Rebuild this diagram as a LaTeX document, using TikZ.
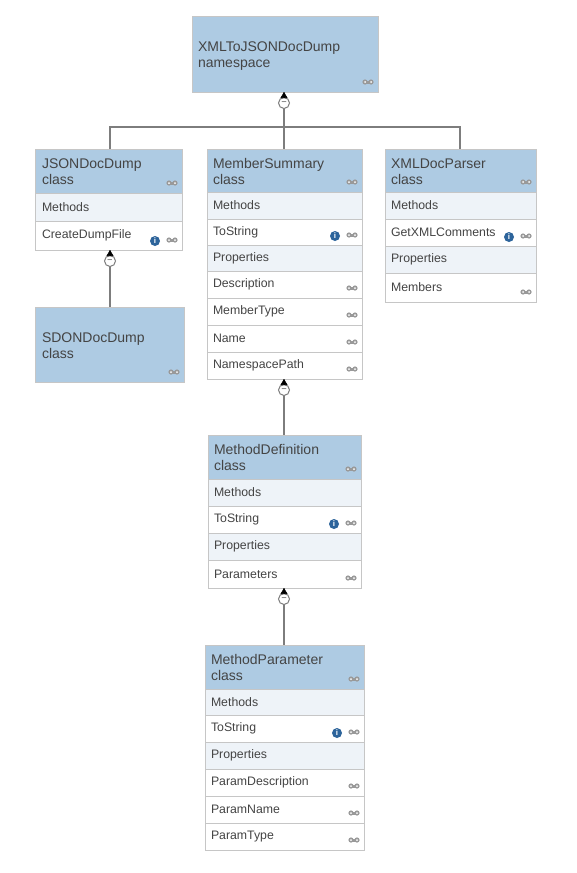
\documentclass[tikz,border=0pt]{standalone}
\usepackage{fontspec}
\setmainfont{Liberation Sans}
\usetikzlibrary{
    positioning,
    arrows.meta,
    calc
}
\definecolor{head_blue}{RGB}{174,203,227}
\definecolor{section_light}{RGB}{238,243,248}
\definecolor{box_line}{RGB}{198,198,198}
\definecolor{link_gray}{RGB}{125,125,125}
\definecolor{text_dark}{RGB}{68,68,68}
\definecolor{info_blue}{RGB}{45,100,155}
\tikzset{
    head/.style={
        rectangle, draw=box_line, line width=1pt, fill=head_blue,
        outer sep=0pt, inner xsep=6pt, inner ysep=0pt,
        align=left, text=text_dark, text depth=14.5pt,
        font=\fontsize{14}{16}\selectfont
    },
    section/.style={
        head, fill=section_light, minimum height=#1, text depth=,
        font=\fontsize{12.3}{14}\selectfont
    },
    member/.style={
        section=#1, fill=white
    },
    link/.style={
        draw=link_gray, line width=2pt
    },
    tip/.style={
        -{Triangle[length=6pt,width=7pt]}, black, line width=0.6pt, shorten <=-1pt
    },
    toggle/.style={
        circle, draw=link_gray, fill=white, line width=1pt, inner sep=0pt,
        minimum size=11pt, text=link_gray, font=\fontsize{9}{9}\selectfont\bfseries
    },
    info/.style={
        circle, fill=info_blue, inner sep=0pt, minimum size=10pt, text=white,
        font=\fontsize{8}{8}\selectfont\bfseries
    },
    eyes/.pic={
        \fill[gray!80] (-3,-1.5) rectangle (3,1.5);
        \fill[gray!80] (-3,0) circle (2.6pt) (3,0) circle (2.6pt);
        \fill[white] (-3,0) circle (1pt) (3,0) circle (1pt);
    }
}

\begin{document}
\begin{tikzpicture}[x=1pt, y=-1pt, node distance=0pt]
    \useasboundingbox (0,0) rectangle (576,873);

    % --- namespace ---
    \node[head, text width=174pt, minimum height=76pt, anchor=north west] (ns) at (192,16)
        {XMLToJSONDocDump\\namespace};

    % --- first level ---
    \begin{scope}[every node/.append style={text width=133pt}]
        \node[head, inner xsep=7pt, minimum height=44pt, anchor=north west] (js_head) at (35,149) {JSONDocDump\\class};
        \node[section=28pt, inner xsep=7pt, below=of js_head] (js_methods) {Methods};
        \node[member=29pt, inner xsep=7pt, below=of js_methods] (js_file) {CreateDumpFile};
    \end{scope}

    \node[head, inner xsep=7pt, text width=135pt, minimum height=75pt, anchor=north west] (sd_head) at (35,307)
        {SDONDocDump\\class};

    \begin{scope}[every node/.append style={text width=143pt}]
        \node[head, minimum height=43pt, anchor=north west] (ms_head) at (207,149) {MemberSummary\\class};
        \node[section=27pt, below=of ms_head] (ms_methods) {Methods};
        \node[member=26pt, below=of ms_methods] (ms_string) {ToString};
        \node[section=26pt, below=of ms_string] (ms_props) {Properties};
        \node[member=27pt, below=of ms_props] (ms_desc) {Description};
        \node[member=27pt, below=of ms_desc] (ms_type) {MemberType};
        \node[member=27pt, below=of ms_type] (ms_name) {Name};
        \node[member=27pt, below=of ms_name] (ms_path) {NamespacePath};
    \end{scope}

    \begin{scope}[every node/.append style={text width=139pt}]
        \node[head, minimum height=43pt, anchor=north west] (xp_head) at (385,149) {XMLDocParser\\class};
        \node[section=27pt, below=of xp_head] (xp_methods) {Methods};
        \node[member=27pt, below=of xp_methods] (xp_comments) {GetXMLComments};
        \node[section=27pt, below=of xp_comments] (xp_props) {Properties};
        \node[member=29pt, below=of xp_props] (xp_members) {Members};
    \end{scope}

    % --- MethodDefinition ---
    \begin{scope}[every node/.append style={text width=141pt}]
        \node[head, minimum height=44pt, anchor=north west] (md_head) at (208,435) {MethodDefinition\\class};
        \node[section=27pt, below=of md_head] (md_methods) {Methods};
        \node[member=27pt, below=of md_methods] (md_string) {ToString};
        \node[section=27pt, below=of md_string] (md_props) {Properties};
        \node[member=28pt, below=of md_props] (md_params) {Parameters};
    \end{scope}

    % --- MethodParameter ---
    \begin{scope}[every node/.append style={text width=147pt}]
        \node[head, minimum height=44pt, anchor=north west] (mp_head) at (205,645) {MethodParameter\\class};
        \node[section=26pt, below=of mp_head] (mp_methods) {Methods};
        \node[member=27pt, below=of mp_methods] (mp_string) {ToString};
        \node[section=27pt, below=of mp_string] (mp_props) {Properties};
        \node[member=27pt, below=of mp_props] (mp_desc) {ParamDescription};
        \node[member=27pt, below=of mp_desc] (mp_name) {ParamName};
        \node[member=27pt, below=of mp_name] (mp_type) {ParamType};
    \end{scope}

    % --- connectors ---
    \coordinate (js_top) at (110,149);
    \coordinate (ms_top) at (284,149);
    \coordinate (xp_top) at (460,149);
    \coordinate (bus) at (284,127);

    \draw[link] (js_top) |- (bus) -| (xp_top);
    \draw[link] (ms_top |- ns.south) -- (ms_top);
    \draw[link] (js_top |- js_file.south) -- (js_top |- sd_head.north);
    \draw[link] (ms_top |- ms_path.south) -- (ms_top |- md_head.north);
    \draw[link] (ms_top |- md_params.south) -- (ms_top |- mp_head.north);

    \node[toggle, below=5pt of ms_top |- ns.south] (ns_toggle) {--};
    \node[toggle, below=5pt of js_top |- js_file.south] (js_toggle) {--};
    \node[toggle, below=5pt of ms_top |- ms_path.south] (ms_toggle) {--};
    \node[toggle, below=5pt of ms_top |- md_params.south] (md_toggle) {--};

    \foreach \src/\dst in {ns_toggle/ns, js_toggle/js_file, ms_toggle/ms_path, md_toggle/md_params} {
        \draw[tip] (\src.north) -- (\src.north |- \dst.south);
    }

    % --- icons ---
    \foreach \row in {ns, js_head, js_file, sd_head, ms_head, ms_string, ms_desc, ms_type, ms_name, ms_path,
                      xp_head, xp_comments, xp_members, md_head, md_string, md_params,
                      mp_head, mp_string, mp_desc, mp_name, mp_type} {
        \pic at ($(\row.south east)+(-10,-10)$) {eyes};
    }
    \foreach \row in {js_file, ms_string, xp_comments, md_string, mp_string} {
        \node[info] (info_\row) at ($(\row.south east)+(-27,-9)$) {i};
    }
\end{tikzpicture}
\end{document}
